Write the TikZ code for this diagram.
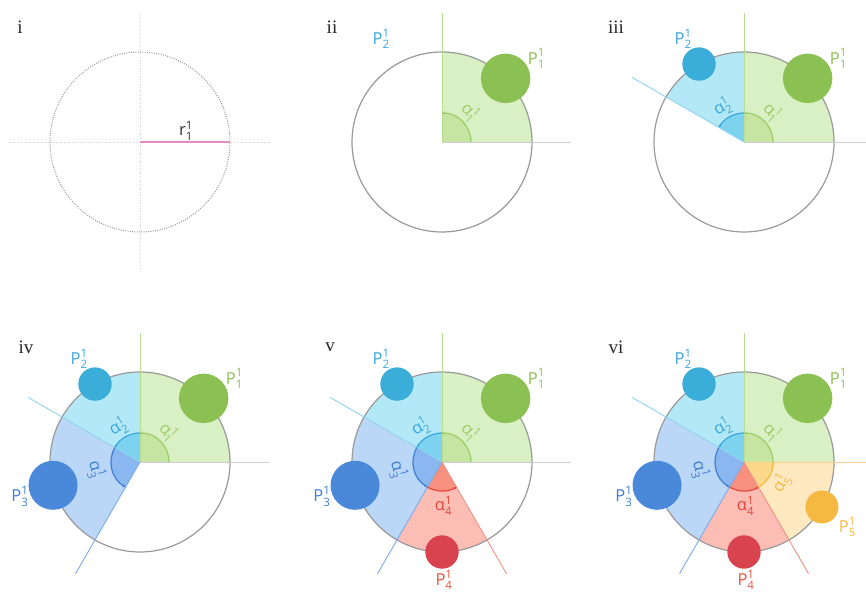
\documentclass[tikz,border=0pt]{standalone}
\usepackage{fontspec}
\usepackage{amsmath}
\setmainfont{Open Sans}
\newfontfamily\romfont{Liberation Serif}
\usetikzlibrary{arrows.meta}
\definecolor{sec1}{HTML}{D9EFC4}\definecolor{dark1}{HTML}{C6E5A2}\definecolor{dot1}{HTML}{8BC053}\definecolor{line1}{HTML}{B5DC8F}\definecolor{arc1}{HTML}{9CCC65}\definecolor{lab1}{HTML}{8BC053}
\definecolor{sec2}{HTML}{B3E8F7}\definecolor{dark2}{HTML}{7DD3EF}\definecolor{dot2}{HTML}{3AADD9}\definecolor{line2}{HTML}{8FD3EE}\definecolor{arc2}{HTML}{3AA8DC}\definecolor{lab2}{HTML}{3AA8DC}
\definecolor{sec3}{HTML}{BBD7F8}\definecolor{dark3}{HTML}{8AB7F0}\definecolor{dot3}{HTML}{4A88D9}\definecolor{line3}{HTML}{7BAAE8}\definecolor{arc3}{HTML}{3C7FD4}\definecolor{lab3}{HTML}{3C7FD4}
\definecolor{sec4}{HTML}{FCBDB5}\definecolor{dark4}{HTML}{F8907F}\definecolor{dot4}{HTML}{D9434F}\definecolor{line4}{HTML}{F2907F}\definecolor{arc4}{HTML}{E5483E}\definecolor{lab4}{HTML}{E8523F}
\definecolor{sec5}{HTML}{FDE8BF}\definecolor{dark5}{HTML}{FCD98A}\definecolor{dot5}{HTML}{F5B942}\definecolor{line5}{HTML}{F8D28A}\definecolor{arc5}{HTML}{F5B942}\definecolor{lab5}{HTML}{F5B942}
\definecolor{linegray}{HTML}{CFCFCF}
\definecolor{rimgray}{HTML}{999999}
\definecolor{pinkr}{HTML}{E48AC8}
\newcommand\SecData[1]{\ifcase#1\or
 \def\sA{0}\def\sB{90}\def\sM{47}\def\sL{41}\def\sR{-45}\def\cD{49.4}\def\cA{45}\def\pA{41.5}\def\pD{126}%
 \or
 \def\sA{90}\def\sB{150}\def\sM{122}\def\sL{41}\def\sR{30}\def\cD{33.4}\def\cA{120}\def\pA{120.5}\def\pD{120}%
 \or
 \def\sA{150}\def\sB{240}\def\sM{190}\def\sL{45}\def\sR{-75}\def\cD{49}\def\cA{195}\def\pA{196}\def\pD{125}%
 \or
 \def\sA{240}\def\sB{300}\def\sM{272}\def\sL{44}\def\sR{0}\def\cD{33.4}\def\cA{270}\def\pA{271}\def\pD{118}%
 \or
 \def\sA{300}\def\sB{360}\def\sM{330}\def\sL{43}\def\sR{60}\def\cD{33}\def\cA{330}\def\pA{328}\def\pD{122}%
 \fi}
\newcommand\DrawPanel[4]{%
\begin{scope}[shift={#2}]
 \coordinate (#1o) at (0,0);
 \foreach \k in {#3}{\SecData{\k}
  \fill[sec\k] (#1o) -- (\sA:90pt) arc[start angle=\sA,end angle=\sB,radius=90pt] -- cycle;
  \fill[dark\k] (#1o) -- (\sA:29pt) arc[start angle=\sA,end angle=\sB,radius=29pt] -- cycle;}
 \draw[rim] (#1o) circle[radius=90pt];
 \foreach \ang/\col in {#4}{
  \coordinate (#1e\ang) at (\ang:129pt);
  \draw[radial, draw=\col] (#1o) -- (#1e\ang);}
 \foreach \k in {#3}{\SecData{\k}
  \draw[arcline, draw=arc\k] (\sA:29pt) arc[start angle=\sA,end angle=\sB,radius=29pt];
  \node[dotc, fill=dot\k, minimum size=\cD pt] (#1c\k) at (\cA:90pt) {};
  \node[lab, text=arc\k, rotate=\sR] (#1a\k) at (\sM:\sL pt) {$\text{α}^{\text{1}}_{\text{\k}}$};
  \node[lab, text=lab\k] (#1p\k) at (\pA:\pD pt) {$\text{P}^{\text{1}}_{\text{\k}}$};}
\end{scope}}
\tikzset{
 rim/.style={draw=rimgray, line width=1.2pt},
 radial/.style={line width=0.9pt},
 arcline/.style={line width=1.2pt, -{Stealth[length=3pt,width=3pt]}},
 dotc/.style={circle, inner sep=0pt, draw=none},
 lab/.style={inner sep=0pt, font=\fontsize{16.5}{16.5}\selectfont},
 rom/.style={inner sep=0pt, font=\romfont\fontsize{19}{19}\selectfont, text=black!85},
}
\begin{document}
\begin{tikzpicture}[x=1pt,y=1pt]
\useasboundingbox (0,0) rectangle (866,591);
% panel i
\begin{scope}[shift={(140,449)}]
 \coordinate (Io) at (0,0);
 \coordinate (Ih1) at (-130,0); \coordinate (Ih2) at (130,0);
 \coordinate (Iv1) at (0,128); \coordinate (Iv2) at (0,-128);
 \draw[linegray, dotted, line width=0.7pt] (Ih1) -- (Ih2);
 \draw[linegray, dotted, line width=0.7pt] (Iv1) -- (Iv2);
 \draw[rimgray, line width=1pt, dash pattern=on 1pt off 1.3pt] (Io) circle[radius=90pt];
 \coordinate (Ir) at (90,0);
 \draw[pinkr, line width=1.3pt] (Io) -- (Ir);
 \node[lab, text=black!80] (Irl) at (46,11) {$\text{r}^{\text{1}}_{\text{1}}$};
\end{scope}
\DrawPanel{II}{(442,449)}{1}{0/linegray,90/line1}
\node[lab, text=lab2] (IIp2) at ([shift={(120.5:120pt)}]442,449) {$\text{P}^{\text{1}}_{\text{2}}$};
\DrawPanel{III}{(744,449)}{1,2}{0/linegray,90/line1,150/line2}
\DrawPanel{IV}{(140,129)}{1,2,3}{0/linegray,90/line1,150/line2,240/line3}
\DrawPanel{V}{(442,129)}{1,2,3,4}{0/linegray,90/line1,150/line2,240/line3,300/line4}
\DrawPanel{VI}{(744,129)}{1,2,3,4,5}{0/line5,90/line1,150/line2,240/line3,300/line4}
\node[rom] (t1) at (20,564) {i};
\node[rom] (t2) at (332,564) {ii};
\node[rom] (t3) at (616,564) {iii};
\node[rom] (t4) at (26,244) {iv};
\node[rom] (t5) at (330,244) {v};
\node[rom] (t6) at (616,244) {vi};
\end{tikzpicture}
\end{document}
